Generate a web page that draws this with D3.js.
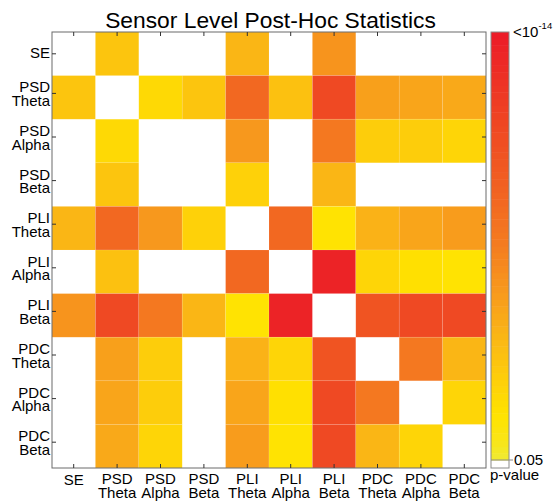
<!DOCTYPE html>
<html>
<head>
<meta charset="utf-8">
<script src="https://cdn.jsdelivr.net/npm/d3@7"></script>
<style>
  body { margin: 0; background: #fff; }
  text { font-family: "Liberation Sans", Arial, sans-serif; fill: #000; }
</style>
</head>
<body>
<div id="chart"></div>
<script>

const chartTitle = "Sensor Level Post-Hoc Statistics"

// row / column categories
const labels = ["SE", "PSD Theta", "PSD Alpha", "PSD Beta", "PLI Theta",
  "PLI Alpha", "PLI Beta", "PDC Theta", "PDC Alpha", "PDC Beta"]

// -log10(p) per pair, null = not significant (white)
const row0 = [null, 4.2, null, null, 5.0, null, 6.6, null, null, null]
const row1 = [4.2, null, 3.1, 4.2, 9.0, 4.3, 11.2, 6.0, 5.7, 5.6]
const row2 = [null, 3.1, null, null, 6.4, null, 7.9, 3.8, 3.8, 3.3]
const row3 = [null, 4.2, null, null, 3.6, null, 5.0, null, null, null]
const row4 = [5.0, 9.0, 6.4, 3.6, null, 9.0, 2.5, 5.2, 5.7, 6.1]
const row5 = [null, 4.3, null, null, 9.0, null, 13.6, 3.3, 2.8, 2.5]
const row6 = [6.6, 11.2, 7.9, 5.0, 2.5, 13.6, null, 10.4, 11.2, 11.2]
const row7 = [null, 6.0, 3.8, null, 5.2, 3.3, 10.4, null, 7.9, 5.0]
const row8 = [null, 5.7, 3.8, null, 5.7, 2.8, 11.2, 7.9, null, 3.3]
const row9 = [null, 5.6, 3.3, null, 6.1, 2.5, 11.2, 5.0, 3.3, null]
const rows = [row0, row1, row2, row3, row4, row5, row6, row7, row8, row9]

// colorbar range: -log10(0.05) .. 14
const cbDomain = [1.3, 14]
const cbBottomLabel = "0.05"
const cbUnit = "p-value"
const nLevels = 64

const width = 558, height = 503
const plot = {left: 52, top: 32, right: 486, bottom: 468}

const svg = d3.select("#chart")
  .append("svg")
    .attr("width", width)
    .attr("height", height)

// colormap: yellow (weak) -> red (strong)
const cmapT = [0, 0.05, 0.1, 0.2, 0.3, 0.4, 0.5, 0.65, 0.8, 1]
const cmapC = ["#f1e92e", "#fbe512", "#ffe300", "#fdcb0c", "#fab217",
  "#f7971d", "#f47d20", "#f15f22", "#ef4523", "#ec1c27"]
const cmap = d3.scaleLinear().domain(cmapT).range(cmapC).interpolate(d3.interpolateRgb)
const norm = d3.scaleLinear().domain(cbDomain).range([0, 1]).clamp(true)
// quantize to 64 levels like the matlab colormap
const color = v => cmap(Math.round(norm(v) * (nLevels - 1)) / (nLevels - 1))

const x = d3.scaleBand()
  .domain(d3.range(labels.length))
  .range([plot.left, plot.right])

const y = d3.scaleBand()
  .domain(d3.range(labels.length))
  .range([plot.top, plot.bottom])

// cells
const cells = []
rows.forEach((r, i) => r.forEach((v, j) => cells.push({i: i, j: j, v: v})))

svg.append("g")
  .selectAll("rect")
  .data(cells.filter(d => d.v != null))
  .join("rect")
    .attr("x", d => x(d.j))
    .attr("y", d => y(d.i))
    .attr("width", x.bandwidth())
    .attr("height", y.bandwidth())
    .attr("fill", d => color(d.v))
    .attr("stroke", "#fff")
    .attr("stroke-opacity", 0.18)
    .attr("stroke-width", 0.6)

// box
svg.append("rect")
  .attr("x", plot.left)
  .attr("y", plot.top)
  .attr("width", plot.right - plot.left)
  .attr("height", plot.bottom - plot.top)
  .attr("fill", "none")
  .attr("stroke", "#6a6a6a")
  .attr("stroke-width", 1)

const tickLen = 4
const xc = i => x(i) + x.bandwidth() / 2
// matlab nudged the two-line y ticks a bit up
const yc = i => y(i) + y.bandwidth() / 2
const yt = i => yc(i) - (labels[i].includes(" ") ? 4 : 0)

const ticks = svg.append("g").attr("stroke", "#333").attr("stroke-width", 1)
labels.forEach((l, i) => {
  ticks.append("line").attr("x1", xc(i)).attr("x2", xc(i))
    .attr("y1", plot.bottom).attr("y2", plot.bottom - tickLen)
  ticks.append("line").attr("x1", xc(i)).attr("x2", xc(i))
    .attr("y1", plot.top).attr("y2", plot.top + tickLen)
  ticks.append("line").attr("y1", yt(i)).attr("y2", yt(i))
    .attr("x1", plot.left).attr("x2", plot.left + tickLen)
  ticks.append("line").attr("y1", yt(i)).attr("y2", yt(i))
    .attr("x1", plot.right).attr("x2", plot.right - tickLen)
})

// x tick labels
const xl = svg.append("g")
  .selectAll("text")
  .data(labels)
  .join("text")
    .attr("text-anchor", "middle")
    .style("font-size", "15px")

xl.each(function(d, i) {
  const parts = d.split(" ")
  const t = d3.select(this)
  parts.forEach((p, k) => {
    t.append("tspan")
      .attr("x", xc(i))
      .attr("y", parts.length == 1 ? 485 : 484 + k * 14)
      .text(p)
  })
})

// y tick labels
const yl = svg.append("g")
  .selectAll("text")
  .data(labels)
  .join("text")
    .attr("text-anchor", "end")
    .style("font-size", "15px")

yl.each(function(d, i) {
  const parts = d.split(" ")
  const t = d3.select(this)
  parts.forEach((p, k) => {
    t.append("tspan")
      .attr("x", plot.left - 2)
      .attr("y", parts.length == 1 ? yc(i) + 4 : yc(i) - 5 + k * 13.5)
      .text(p)
  })
})

// title
svg.append("text")
  .attr("x", 270.5)
  .attr("y", 28)
  .attr("text-anchor", "middle")
  .style("font-size", "22.8px")
  .text(chartTitle)

// colorbar
const cb = {x: 491, w: 18, top: plot.top, bottom: 460, end: plot.bottom}
const cbScale = d3.scaleLinear().domain(cbDomain).range([cb.bottom, cb.top])
const levels = d3.range(nLevels)
const step = (cbDomain[1] - cbDomain[0]) / nLevels

svg.append("g")
  .selectAll("rect")
  .data(levels)
  .join("rect")
    .attr("x", cb.x)
    .attr("y", k => cbScale(cbDomain[0] + (k + 1) * step))
    .attr("width", cb.w)
    .attr("height", k => cbScale(cbDomain[0] + k * step) - cbScale(cbDomain[0] + (k + 1) * step) + 0.5)
    .attr("fill", k => cmap(k / (nLevels - 1)))

svg.append("rect")
  .attr("x", cb.x)
  .attr("y", cb.top)
  .attr("width", cb.w)
  .attr("height", cb.end - cb.top)
  .attr("fill", "none")
  .attr("stroke", "#8a8a8a")

svg.append("line")
  .attr("x1", cb.x).attr("x2", cb.x + cb.w + 4)
  .attr("y1", cbScale(cbDomain[0])).attr("y2", cbScale(cbDomain[0]))
  .attr("stroke", "#8a8a8a")

svg.append("text")
  .attr("x", 514)
  .attr("y", cbScale(cbDomain[0]) + 5)
  .style("font-size", "15px")
  .text(cbBottomLabel)

svg.append("text")
  .attr("x", 490)
  .attr("y", 480)
  .style("font-size", "15px")
  .text(cbUnit)

const topLab = svg.append("text")
  .attr("x", 513)
  .attr("y", cbScale(cbDomain[1]) + 5)
  .style("font-size", "15px")
topLab.append("tspan").text("<10")
topLab.append("tspan")
  .attr("dy", -8)
  .style("font-size", "9.5px")
  .text("-14")

</script>
</body>
</html>
